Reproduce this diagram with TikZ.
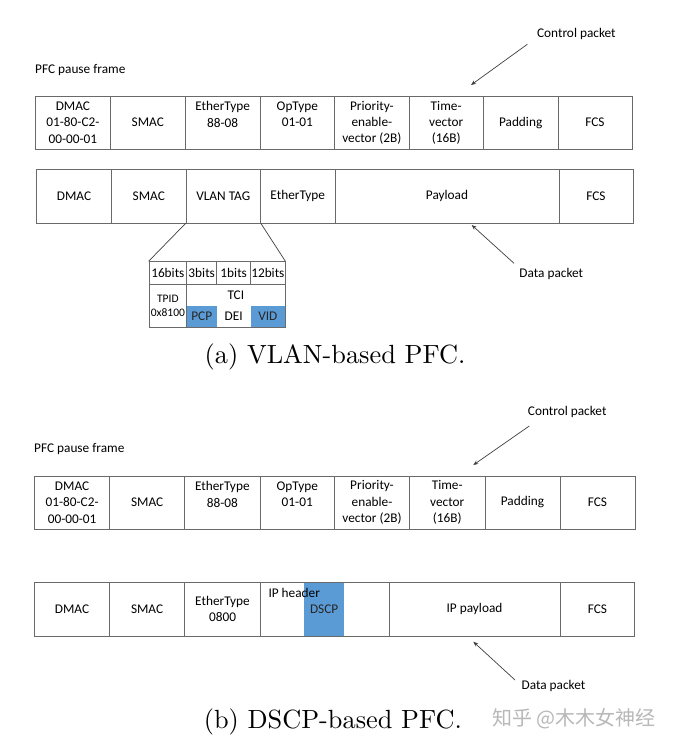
\documentclass[tikz,border=0pt]{standalone}
\usepackage{fontspec}
\newfontfamily\calfont{Carlito}
\newfontfamily\cjkfont{Noto Sans CJK SC}
\newfontfamily\capfont{lmroman10-regular}[Extension=.otf]
\usetikzlibrary{arrows.meta}
\definecolor{cellblue}{HTML}{5B9BD5}
\definecolor{lineg}{HTML}{6A6A6A}
\newcommand\mkcell[7][]{%
  \pgfmathsetmacro\cellW{#4-#3}\pgfmathsetmacro\cellH{#6-#5}%
  \pgfmathsetmacro\cellX{(#3+#4)/2}\pgfmathsetmacro\cellY{(#5+#6)/2}%
  \node[cell,minimum width=\cellW pt,minimum height=\cellH pt,#1] (#2) at (\cellX,\cellY) {#7};}
\begin{document}
\begin{tikzpicture}[x=1pt,y=-1pt,
  every node/.style={font=\calfont\fontsize{13.3}{16.3}\selectfont, inner sep=0pt, text=black},
  cell/.style={draw=lineg, line width=0.8pt, align=center},
  nobox/.style={draw=none},
  bluecell/.style={fill=cellblue, draw=none, text=black!85},
  small/.style={font=\calfont\fontsize{11.5}{14.3}\selectfont},
  conn/.style={draw=black!75, line width=0.7pt},
  arr/.style={conn, -{Stealth[length=5pt,width=4pt]}},
  caption/.style={font=\capfont\fontsize{26.3}{30}\selectfont, anchor=base},
  plain/.style={anchor=center}]
\useasboundingbox[fill=white] (0,0) rectangle (676,746);

% ---------------- (a) ----------------
\node[anchor=west] (pfca) at (35,70) {PFC pause frame};
\node (ctla) at (576.4,34.3) {Control packet};
\coordinate (ctla-tail) at (527.3,44.3);
\coordinate (ctla-tip) at (471,85);
\draw[arr] (ctla-tail) -- (ctla-tip);

\mkcell{pa1}{35.5}{110.3}{96}{149.3}{DMAC\\01-80-C2-\\00-00-01}
\mkcell{pa2}{110.3}{185.3}{96}{149.3}{SMAC}
\mkcell{pa3}{185.3}{260}{96}{149.3}{EtherType\\88-08\\\mbox{}}
\mkcell{pa4}{260}{334.7}{96}{149.3}{OpType\\01-01\\\mbox{}}
\mkcell{pa5}{334.7}{409}{96}{149.3}{Priority-\\enable-\\vector (2B)}
\mkcell{pa6}{409}{483.3}{96}{149.3}{Time-\\vector\\(16B)}
\mkcell{pa7}{483.3}{558}{96}{149.3}{Padding}
\mkcell{pa8}{558}{632}{96}{149.3}{FCS}

\mkcell{da1}{36.5}{111.5}{169.3}{223}{DMAC}
\mkcell{da2}{111.5}{186}{169.3}{223}{SMAC}
\mkcell{da3}{186}{260.5}{169.3}{223}{VLAN TAG}
\mkcell{da4}{260.5}{335}{169.3}{223}{EtherType}
\mkcell{da5}{335}{559}{169.3}{223}{Payload}
\mkcell{da6}{559}{633}{169.3}{223}{FCS}

\node (dpa) at (551.3,274) {Data packet};
\coordinate (dpa-tail) at (514,263.3);
\coordinate (dpa-tip) at (471.7,225);
\draw[arr] (dpa-tail) -- (dpa-tip);

% VLAN tag detail
\mkcell{bt1}{149}{186.7}{261.7}{284.3}{16bits}
\mkcell{bt2}{186.7}{216.7}{261.7}{284.3}{3bits}
\mkcell{bt3}{216.7}{250.7}{261.7}{284.3}{1bits}
\mkcell{bt4}{250.7}{285}{261.7}{284.3}{12bits}
\mkcell[small]{tpid}{149}{186.7}{284.3}{327.3}{TPID\\0x8100}
\mkcell[nobox]{tci}{186.7}{285}{284.3}{305.7}{TCI}
\mkcell[bluecell]{pcp}{186.7}{216.7}{305.7}{327.3}{PCP}
\mkcell[nobox]{dei}{216.7}{250.7}{305.7}{327.3}{DEI}
\mkcell[bluecell]{vid}{250.7}{285}{305.7}{327.3}{VID}
\draw[draw=lineg, line width=0.8pt] (tci.north west) rectangle (vid.south east);
\draw[conn] (da3.south west) -- (bt1.north west);
\draw[conn] (da3.south east) -- (bt4.north east);

\node[caption] (capa) at (335,363) {(a) VLAN-based PFC.};

% ---------------- (b) ----------------
\node[anchor=west] (pfcb) at (34,449.3) {PFC pause frame};
\node (ctlb) at (567.2,412.3) {Control packet};
\coordinate (ctlb-tail) at (529.3,426);
\coordinate (ctlb-tip) at (473.3,465);
\draw[arr] (ctlb-tail) -- (ctlb-tip);

\mkcell{pb1}{34.5}{109.7}{476}{529}{DMAC\\01-80-C2-\\00-00-01}
\mkcell{pb2}{109.7}{184.7}{476}{529}{SMAC}
\mkcell{pb3}{184.7}{260}{476}{529}{EtherType\\88-08\\\mbox{}}
\mkcell{pb4}{260}{334.5}{476}{529}{OpType\\01-01\\\mbox{}}
\mkcell{pb5}{334.5}{409.5}{476}{529}{Priority-\\enable-\\vector (2B)}
\mkcell{pb6}{409.5}{485}{476}{529}{Time-\\vector\\(16B)}
\mkcell{pb7}{485}{560}{476}{529}{Padding}
\mkcell{pb8}{560}{635}{476}{529}{FCS}

\mkcell[bluecell]{dscp}{304}{344.3}{582.3}{636}{DSCP}
\mkcell{db1}{34.5}{109.5}{582.3}{636}{DMAC}
\mkcell{db2}{109.5}{184.7}{582.3}{636}{SMAC}
\mkcell{db3}{184.7}{260.3}{582.3}{636}{EtherType\\0800}
\mkcell{db4}{260.3}{389}{582.3}{636}{}
\mkcell{db5}{389}{560}{582.3}{636}{IP payload}
\mkcell{db6}{560}{634.7}{582.3}{636}{FCS}
\node[anchor=west] (iph) at (268.3,593.3) {IP header};

\node (dpb) at (553.5,685.7) {Data packet};
\coordinate (dpb-tail) at (515,680);
\coordinate (dpb-tip) at (473.3,641.7);
\draw[arr] (dpb-tail) -- (dpb-tip);

\node[caption] (capb) at (332.8,728.5) {(b) DSCP-based PFC.};
\node[anchor=west, font=\cjkfont\fontsize{20}{24}\selectfont, text=black!28] (wm) at (492,718.3) {知乎 @木木女神经};
\end{tikzpicture}
\end{document}
